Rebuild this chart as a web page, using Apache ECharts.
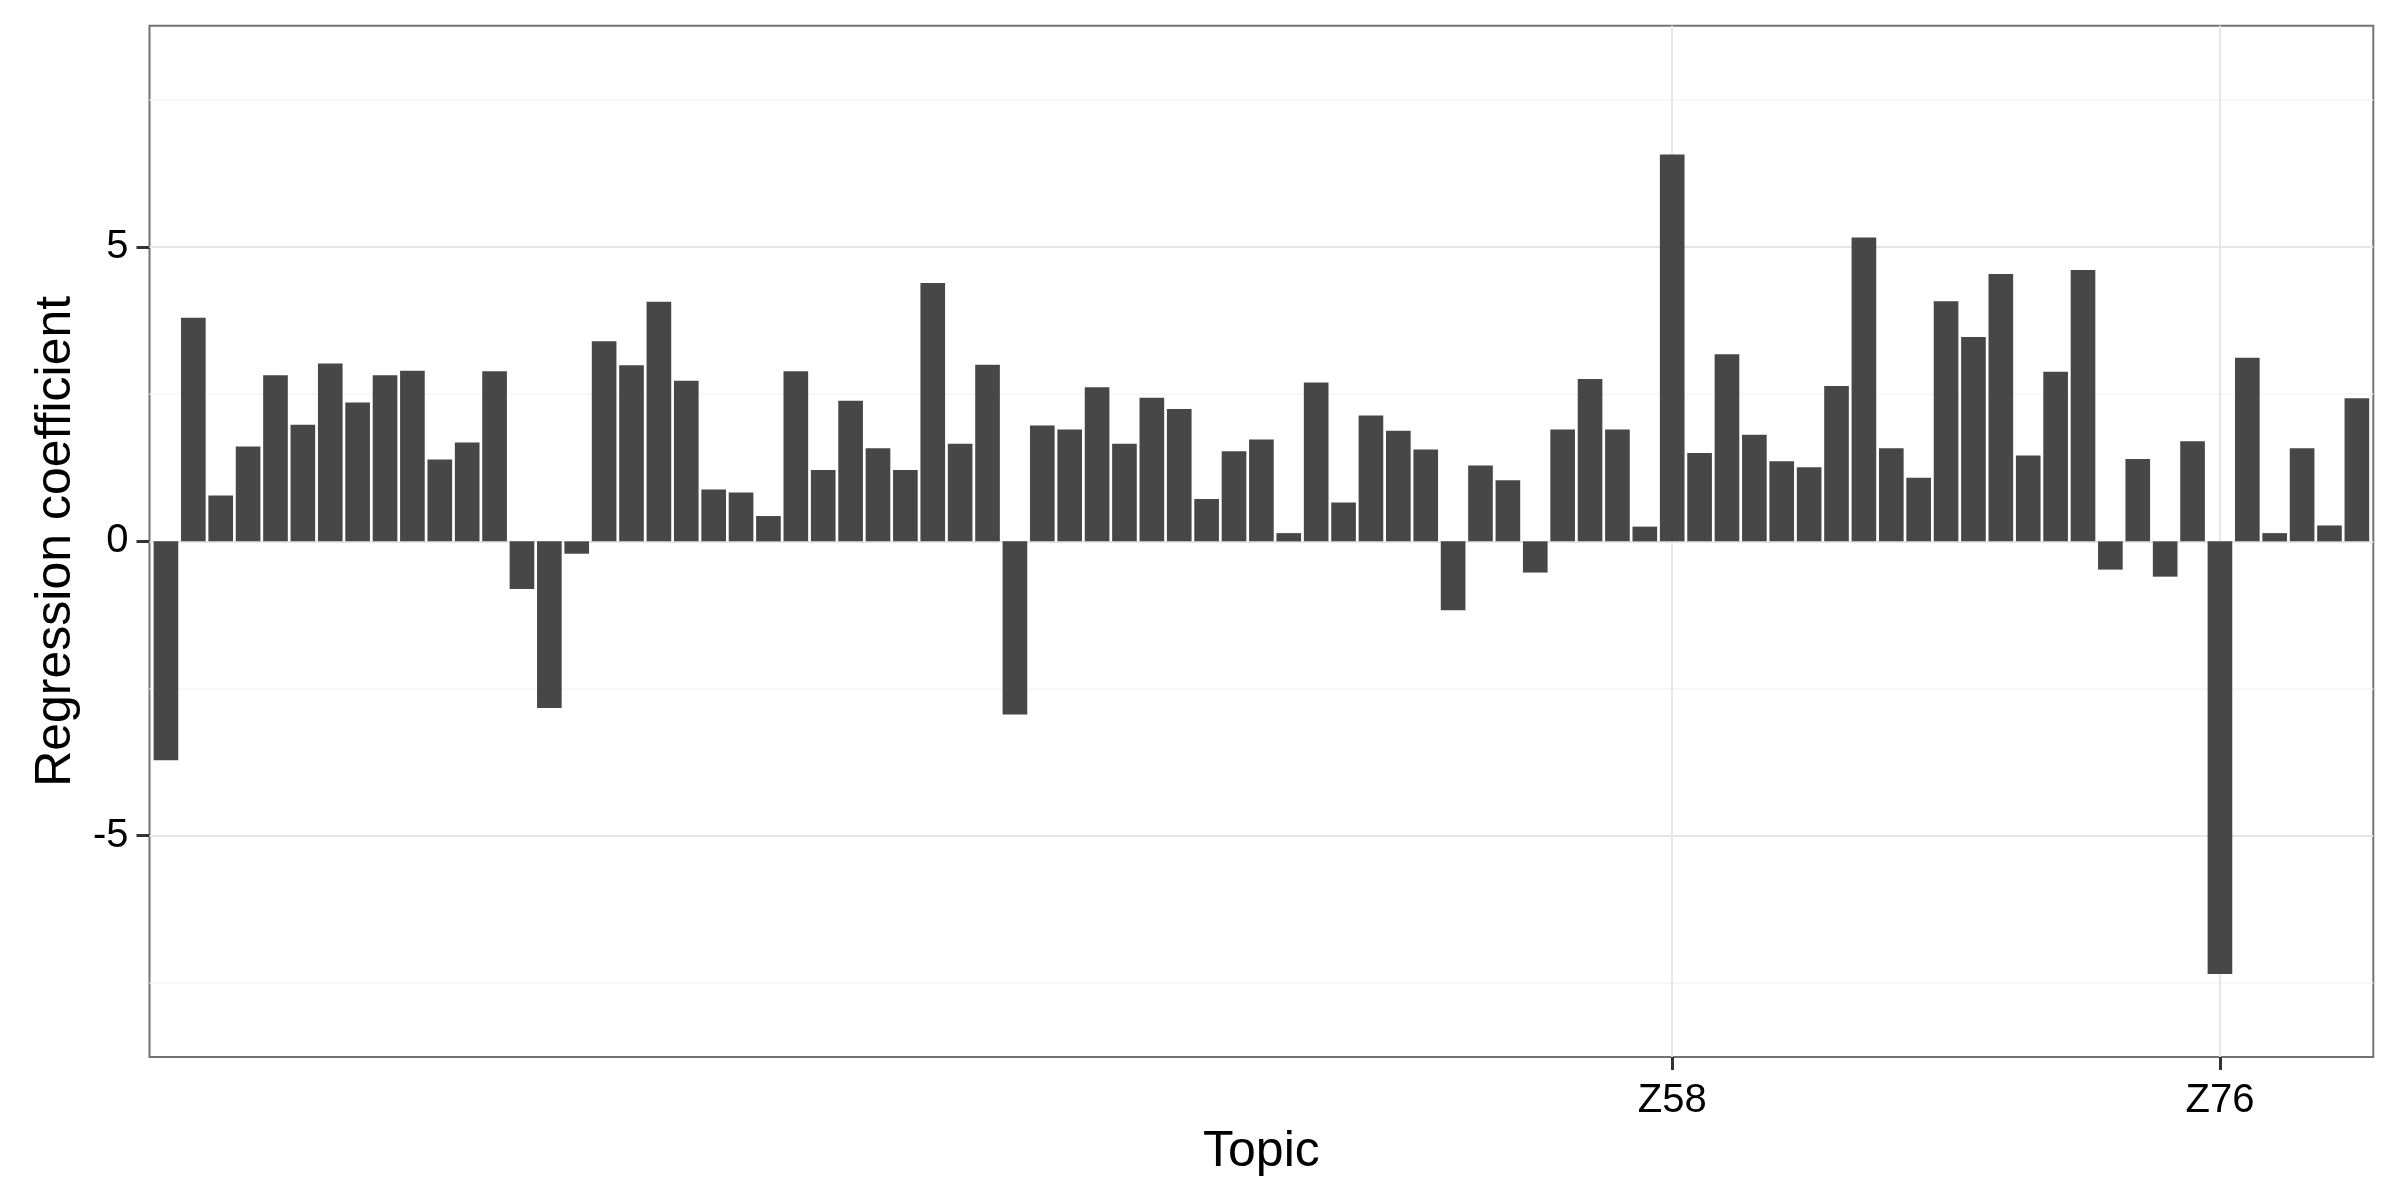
<!DOCTYPE html>
<html>
<head>
<meta charset="utf-8">
<script src="https://cdn.jsdelivr.net/npm/echarts@6/dist/echarts.min.js"></script>
<style>
  html, body { margin: 0; padding: 0; background: #ffffff; }
  #chart { width: 2400px; height: 1200px; }
</style>
</head>
<body>
<div id="chart"></div>
<script>
// Topic categories (only Z58 and Z76 are labelled on the axis)
const categories = [
  "(Intercept)", "Z0", "Z1", "Z10", "Z11", "Z12", "Z13", "Z14", "Z15", "Z16", "Z17", "Z18", "Z19",
  "Z2", "Z20", "Z21", "Z22", "Z23", "Z24", "Z25", "Z26", "Z27", "Z28", "Z29",
  "Z3", "Z30", "Z31", "Z32", "Z33", "Z34", "Z35", "Z36", "Z37", "Z38", "Z39",
  "Z4", "Z40", "Z41", "Z42", "Z43", "Z44", "Z45", "Z46", "Z47", "Z48", "Z49",
  "Z5", "Z50", "Z51", "Z52", "Z53", "Z54", "Z55", "Z56", "Z57", "Z58", "Z59",
  "Z6", "Z60", "Z61", "Z62", "Z63", "Z64", "Z65", "Z66", "Z67", "Z68", "Z69",
  "Z7", "Z70", "Z71", "Z72", "Z73", "Z74", "Z75", "Z76", "Z77", "Z78", "Z79",
  "Z8", "Z80"
];

// Regression coefficient per topic
const coefficients = [
  -3.72, 3.80, 0.78, 1.61, 2.82, 1.98, 3.02, 2.36, 2.82, 2.90, 1.39, 1.68, 2.89,
  -0.81, -2.83, -0.21, 3.40, 2.99, 4.07, 2.73, 0.88, 0.83, 0.43, 2.89, 1.21,
  2.39, 1.58, 1.21, 4.39, 1.66, 3.00, -2.94, 1.97, 1.90, 2.62, 1.66, 2.44,
  2.25, 0.72, 1.53, 1.73, 0.14, 2.70, 0.66, 2.14, 1.88, 1.56, -1.17, 1.29,
  1.04, -0.53, 1.90, 2.76, 1.90, 0.25, 6.57, 1.50, 3.18, 1.81, 1.36, 1.26,
  2.64, 5.16, 1.58, 1.08, 4.08, 3.47, 4.54, 1.46, 2.88, 4.61, -0.48, 1.40,
  -0.60, 1.70, -7.35, 3.12, 0.14, 1.58, 0.27, 2.43
];

// Axis breaks
const xTickLabels = ["Z58", "Z76"];
const yTickValues = [-5, 0, 5];
const yMinorValues = [-7.5, -2.5, 2.5, 7.5];
const yLimits = [-8.76, 8.76];

const FONT = "'Liberation Sans', Arial, Helvetica, sans-serif";

// panel geometry (ggplot-like discrete expansion of 0.6 category on each side)
const panel = { left: 149.5, right: 26.7, top: 25.7, bottom: 143 };
const panelWidth = 2400 - panel.left - panel.right;
const band = panelWidth / (categories.length + 0.2);
const inset = 0.1 * band;

const showTick = (idx, val) => xTickLabels.includes(val);

const hLines = []
  .concat(yMinorValues.map(v => ({ yAxis: v, lineStyle: { color: '#f4f4f4', width: 1.5, type: 'solid' } })))
  .concat(yTickValues.map(v => ({ yAxis: v, lineStyle: { color: '#e6e6e6', width: 2, type: 'solid' } })));

const vLines = xTickLabels.map(c => ({ xAxis: c, lineStyle: { color: '#e6e6e6', width: 2, type: 'solid' } }));

const chart = echarts.init(document.getElementById('chart'), null, { renderer: 'canvas' });
chart.setOption({
  animation: false,
  backgroundColor: '#ffffff',
  textStyle: { fontFamily: FONT },
  grid: [
    {
      left: panel.left, right: panel.right, top: panel.top, bottom: panel.bottom,
      show: true, borderColor: '#737373', borderWidth: 2, backgroundColor: '#ffffff',
      containLabel: false, outerBoundsMode: 'none'
    },
    {
      left: panel.left + inset, right: panel.right + inset, top: panel.top, bottom: panel.bottom,
      containLabel: false, outerBoundsMode: 'none'
    }
  ],
  xAxis: [
    { gridIndex: 0, type: 'value', min: 0, max: 1, show: false },
    {
      gridIndex: 1, type: 'category', data: categories, boundaryGap: true,
      axisLine: { show: false, onZero: false },
      axisTick: { show: true, alignWithLabel: true, interval: showTick, length: 13,
                  lineStyle: { color: '#333333', width: 3 } },
      axisLabel: { interval: showTick, fontSize: 40, color: '#000000', margin: 24, fontFamily: FONT },
      splitLine: { show: false },
      name: 'Topic', nameLocation: 'middle', nameGap: 70,
      nameTextStyle: { fontSize: 50, color: '#000000', fontFamily: FONT }
    }
  ],
  yAxis: [
    {
      gridIndex: 0, type: 'value', min: yLimits[0], max: yLimits[1],
      axisLine: { show: false },
      axisTick: { show: true, customValues: yTickValues, length: 13,
                  lineStyle: { color: '#333333', width: 3 } },
      axisLabel: { customValues: yTickValues, fontSize: 40, color: '#000000', margin: 21, fontFamily: FONT,
                   formatter: v => String(v) },
      splitLine: { show: false },
      name: 'Regression coefficient', nameLocation: 'middle', nameGap: 68,
      nameTextStyle: { fontSize: 50, color: '#000000', fontFamily: FONT }
    },
    {
      gridIndex: 1, type: 'value', min: yLimits[0], max: yLimits[1], show: false,
      splitLine: { show: false }
    }
  ],
  series: [
    {
      type: 'line', xAxisIndex: 0, yAxisIndex: 0, data: [], z: 1, silent: true,
      markLine: { silent: true, symbol: ['none', 'none'], label: { show: false }, z: 1,
                  animation: false, data: hLines }
    },
    {
      type: 'line', xAxisIndex: 1, yAxisIndex: 1, data: [], z: 1, silent: true,
      markLine: { silent: true, symbol: ['none', 'none'], label: { show: false }, z: 1,
                  animation: false, data: vLines }
    },
    {
      type: 'bar', xAxisIndex: 1, yAxisIndex: 1, z: 3,
      data: coefficients, barWidth: '90%',
      itemStyle: { color: '#474747' }
    }
  ]
});
</script>
</body>
</html>
